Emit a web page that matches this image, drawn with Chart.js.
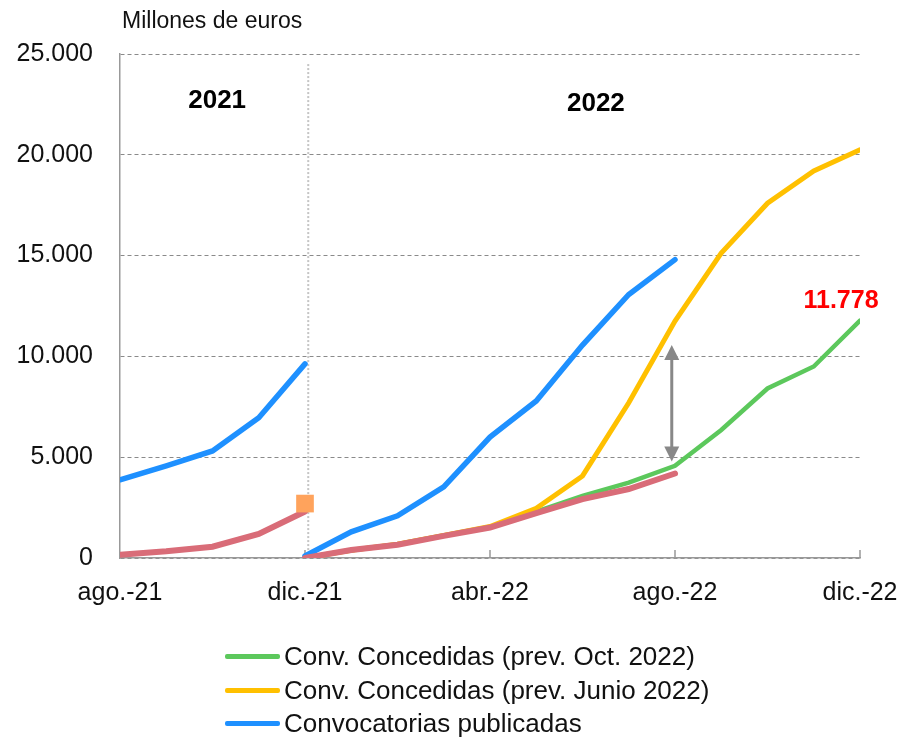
<!DOCTYPE html>
<html><head><meta charset="utf-8">
<script src="https://cdn.jsdelivr.net/npm/chart.js@4"></script>
<style>
html,body{margin:0;padding:0;background:#fff;}
#wrap{position:relative;width:908px;height:741px;overflow:hidden;}
canvas{position:absolute;left:0;top:0;}
#legend{position:absolute;left:225px;top:640px;font-family:"Liberation Sans",Arial,sans-serif;font-size:26px;color:#111;}
.item{display:flex;align-items:center;height:33.5px;white-space:nowrap;}
.sw{width:55px;height:5px;margin-right:4px;border-radius:2px;}
</style></head>
<body>
<div id="wrap"><canvas id="c" width="908" height="741"></canvas><div id="legend"></div></div>
<script>
// ---- data ----
const months = ['ago.-21','sep.-21','oct.-21','nov.-21','dic.-21','ene.-22','feb.-22','mar.-22','abr.-22','may.-22','jun.-22','jul.-22','ago.-22','sep.-22','oct.-22','nov.-22','dic.-22'];
const tickIndex = [0, 4, 8, 12, 16];
const tickLabels = ['ago.-21', 'dic.-21', 'abr.-22', 'ago.-22', 'dic.-22'];
// 2021 series start at ago.-21 (index 0)
const convocatorias2021 = [3880, 4570, 5310, 6960, 9630];
const concedidas2021 = [160, 330, 560, 1190, 2310];
// 2022 series start at dic.-21 (index 4)
const convocatorias2022 = [100, 1300, 2090, 3530, 6000, 7790, 10560, 13070, 14800];
const concedidas2022 = [0, 400, 660, 1100, 1510, 2230, 2920, 3420, 4190];
const prevOct2022 = [0, 380, 680, 1120, 1540, 2300, 3080, 3740, 4570, 6350, 8410, 9500, 11778];
const prevJun2022 = [0, 380, 680, 1120, 1560, 2460, 4070, 7700, 11750, 15130, 17600, 19200, 20250];
const marker2021 = [2700]; // at dic.-21
const labelLast = '11.778';

const C_GREEN = '#5CC85C', C_YELLOW = '#FFC000', C_BLUE = '#1E90FF', C_RED = '#D96C78', C_MARK = '#FFA35C';

const pts = (arr, start) => arr.map((v, i) => ({x: start + i, y: v}));

Chart.defaults.font.family = '"Liberation Sans", Arial, sans-serif';
Chart.defaults.color = '#111';

const lineDs = (label, data, color, w, order) => ({
  label, data, borderColor: color, backgroundColor: color, borderWidth: w,
  pointRadius: 0, tension: 0, order, borderCapStyle: 'round', fill: false
});

const datasets = [
  lineDs('Conv. Concedidas (prev. Oct. 2022)', pts(prevOct2022, 4), C_GREEN, 4.5, 4),
  lineDs('Conv. Concedidas (prev. Junio 2022)', pts(prevJun2022, 4), C_YELLOW, 5, 3),
  lineDs('Convocatorias publicadas', pts(convocatorias2022, 4), C_BLUE, 5.5, 2),
  lineDs('Convocatorias publicadas 2021', pts(convocatorias2021, 0), C_BLUE, 5.5, 2),
  lineDs('Concedidas 2022', pts(concedidas2022, 4), C_RED, 6, 1),
  lineDs('Concedidas 2021', pts(concedidas2021, 0), C_RED, 6, 1),
  {label: 'marker', data: pts(marker2021, 4), showLine: false, pointStyle: 'rect',
   pointRadius: 12.5, backgroundColor: C_MARK, borderWidth: 0, order: 0}
];

const fmt = v => String(v).replace(/\B(?=(\d{3})+(?!\d))/g, '.');

const annot = {
  id: 'annot',
  beforeDatasetsDraw(chart) {
    const {ctx, chartArea: a, scales: {x, y}} = chart;
    ctx.save();
    ctx.strokeStyle = '#999'; ctx.lineWidth = 1.5;
    tickIndex.slice(1).forEach(v => {
      const px = x.getPixelForValue(v);
      ctx.beginPath(); ctx.moveTo(px, a.bottom); ctx.lineTo(px, a.bottom - 8); ctx.stroke();
    });
    const dx = x.getPixelForValue(4.07);
    ctx.setLineDash([2, 2]); ctx.strokeStyle = '#c4c4c4'; ctx.lineWidth = 2;
    ctx.beginPath(); ctx.moveTo(dx, y.getPixelForValue(24500)); ctx.lineTo(dx, a.bottom); ctx.stroke();
    ctx.restore();
  },
  afterDatasetsDraw(chart) {
    const {ctx, chartArea: a, scales: {x, y}} = chart;
    ctx.save();
    // double arrow
    const ax = x.getPixelForValue(11.93);
    const y1 = y.getPixelForValue(10570), y2 = y.getPixelForValue(4790);
    ctx.strokeStyle = '#888'; ctx.fillStyle = '#888'; ctx.lineWidth = 3;
    ctx.beginPath(); ctx.moveTo(ax, y1 + 12); ctx.lineTo(ax, y2 - 12); ctx.stroke();
    ctx.beginPath(); ctx.moveTo(ax, y1); ctx.lineTo(ax - 7.5, y1 + 15); ctx.lineTo(ax + 7.5, y1 + 15); ctx.closePath(); ctx.fill();
    ctx.beginPath(); ctx.moveTo(ax, y2); ctx.lineTo(ax - 7.5, y2 - 15); ctx.lineTo(ax + 7.5, y2 - 15); ctx.closePath(); ctx.fill();
    // texts
    ctx.textAlign = 'center'; ctx.textBaseline = 'middle';
    ctx.fillStyle = '#000';
    ctx.font = 'bold 26px "Liberation Sans", Arial, sans-serif';
    ctx.fillText('2021', x.getPixelForValue(2.1), y.getPixelForValue(22700));
    ctx.fillText('2022', x.getPixelForValue(10.29), y.getPixelForValue(22550));
    ctx.fillStyle = '#FF0000';
    ctx.font = 'bold 25px "Liberation Sans", Arial, sans-serif';
    ctx.fillText(labelLast, x.getPixelForValue(15.59), y.getPixelForValue(12720));
    ctx.fillStyle = '#111'; ctx.textAlign = 'left';
    ctx.font = '23px "Liberation Sans", Arial, sans-serif';
    ctx.fillText('Millones de euros', a.left + 2, 22);
    ctx.restore();
  }
};

new Chart(document.getElementById('c'), {
  type: 'line',
  data: {datasets},
  options: {
    responsive: false, animation: false,
    layout: {padding: {left: 0, right: 48, top: 54, bottom: 123}},
    plugins: {legend: {display: false}, tooltip: {enabled: false}},
    scales: {
      x: {
        type: 'linear', min: 0, max: 16,
        afterBuildTicks: s => { s.ticks = tickIndex.map(v => ({value: v})); },
        ticks: {callback: v => tickLabels[tickIndex.indexOf(v)], font: {size: 25}, color: '#111',
                padding: 20, maxRotation: 0, autoSkip: false},
        grid: {display: false, drawTicks: false},
        border: {display: true, color: '#999', width: 1.5},
        afterFit: s => { s.height = 60; s.paddingLeft = 0; s.paddingRight = 0; }
      },
      y: {
        min: 0, max: 25000,
        ticks: {stepSize: 5000, callback: v => fmt(v), font: {size: 25}, color: '#111', padding: 27},
        grid: {color: '#8a8a8a', lineWidth: 1, drawTicks: false},
        border: {display: true, color: '#999', width: 1.5, dash: [4, 3]},
        afterFit: s => { s.width = 120; s.paddingTop = 0; s.paddingBottom = 0; }
      }
    }
  },
  plugins: [annot]
});

// HTML legend (first three series)
const legendItems = [[datasets[0].label, C_GREEN], [datasets[1].label, C_YELLOW], [datasets[2].label, C_BLUE]];
document.getElementById('legend').innerHTML = legendItems.map(([t, c]) =>
  `<div class="item"><span class="sw" style="background:${c}"></span><span>${t}</span></div>`).join('');
</script>
</body></html>
